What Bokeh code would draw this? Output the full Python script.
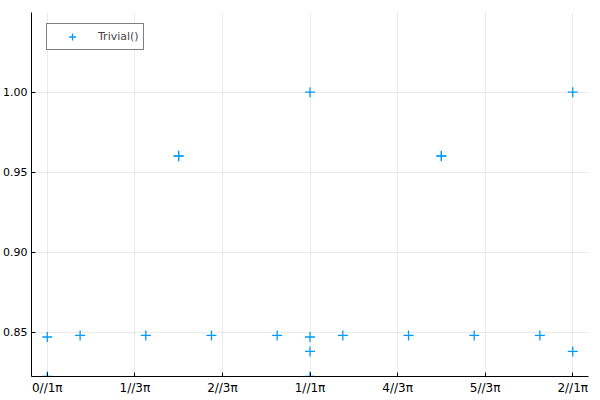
import numpy as np
from bokeh.plotting import figure
from bokeh.models import FixedTicker, ColumnDataSource, Legend, LegendItem
from bokeh.embed import file_html
from bokeh.resources import INLINE

# data (x in units of pi)
x_pi = [0, 0, 0.125, 0.375, 0.5, 0.5, 0.625, 0.875, 1, 1, 1, 1,
        1.125, 1.375, 1.5, 1.5, 1.625, 1.875, 2, 2]
y_vals = [0.847, 0.8223, 0.848, 0.848, 0.96, 0.9602, 0.848, 0.848, 1.00, 0.847, 0.838, 0.8223,
          0.848, 0.848, 0.96, 0.9602, 0.848, 0.848, 1.00, 0.838]
series_name = "Trivial()"
x_tick_pi = [0, 1/3, 2/3, 1, 4/3, 5/3, 2]
x_tick_labels = ["0//1π", "1//3π", "2//3π", "1//1π", "4//3π", "5//3π", "2//1π"]
y_ticks = [0.85, 0.90, 0.95, 1.00]
y_tick_labels = ["0.85", "0.90", "0.95", "1.00"]

FONT = "DejaVu Sans"
BLUE = "#009AFA"

x = np.array(x_pi) * np.pi
src = ColumnDataSource(dict(x=x, y=y_vals))

p = figure(width=600, height=400, output_backend="svg", toolbar_location=None,
           x_range=(-0.1885, 2 * np.pi + 0.1885), y_range=(0.8223, 1.0498),
           min_border_left=26, min_border_right=12, min_border_top=12, min_border_bottom=24)
p.outline_line_color = None
p.background_fill_color = "white"

r = p.scatter("x", "y", source=src, marker="cross", size=10, line_width=1.3,
              line_color=BLUE)

xt = [v * np.pi for v in x_tick_pi]
p.xaxis.ticker = FixedTicker(ticks=xt)
p.xaxis.major_label_overrides = {t: l for t, l in zip(xt, x_tick_labels)}
p.yaxis.ticker = FixedTicker(ticks=y_ticks)
p.yaxis.major_label_overrides = {t: l for t, l in zip(y_ticks, y_tick_labels)}

for ax in (p.xaxis, p.yaxis):
    ax.major_tick_in = 4
    ax.major_tick_out = 0
    ax.minor_tick_in = 0
    ax.minor_tick_out = 0
    ax.axis_line_color = "black"
    ax.axis_line_width = 1
    ax.major_tick_line_color = "black"
    ax.major_label_text_font = FONT
    ax.major_label_text_color = "black"
p.xaxis.major_label_text_font_size = "12px"
p.yaxis.major_label_text_font_size = "11px"
p.xaxis.major_label_standoff = 4
p.yaxis.major_label_standoff = 4

p.xgrid.grid_line_color = "black"
p.xgrid.grid_line_alpha = 0.08
p.ygrid.grid_line_color = "black"
p.ygrid.grid_line_alpha = 0.08

legend = Legend(items=[LegendItem(label=series_name, renderers=[r])],
                location=(15, 326))
legend.border_line_color = "black"
legend.border_line_width = 1
legend.label_text_font = FONT
legend.label_text_font_size = "11px"
legend.padding = 4
legend.glyph_width = 42
legend.glyph_height = 17
legend.label_height = 17
legend.label_standoff = 5
legend.margin = 0
p.add_layout(legend)

open("out.html", "w").write(file_html(p, INLINE))
